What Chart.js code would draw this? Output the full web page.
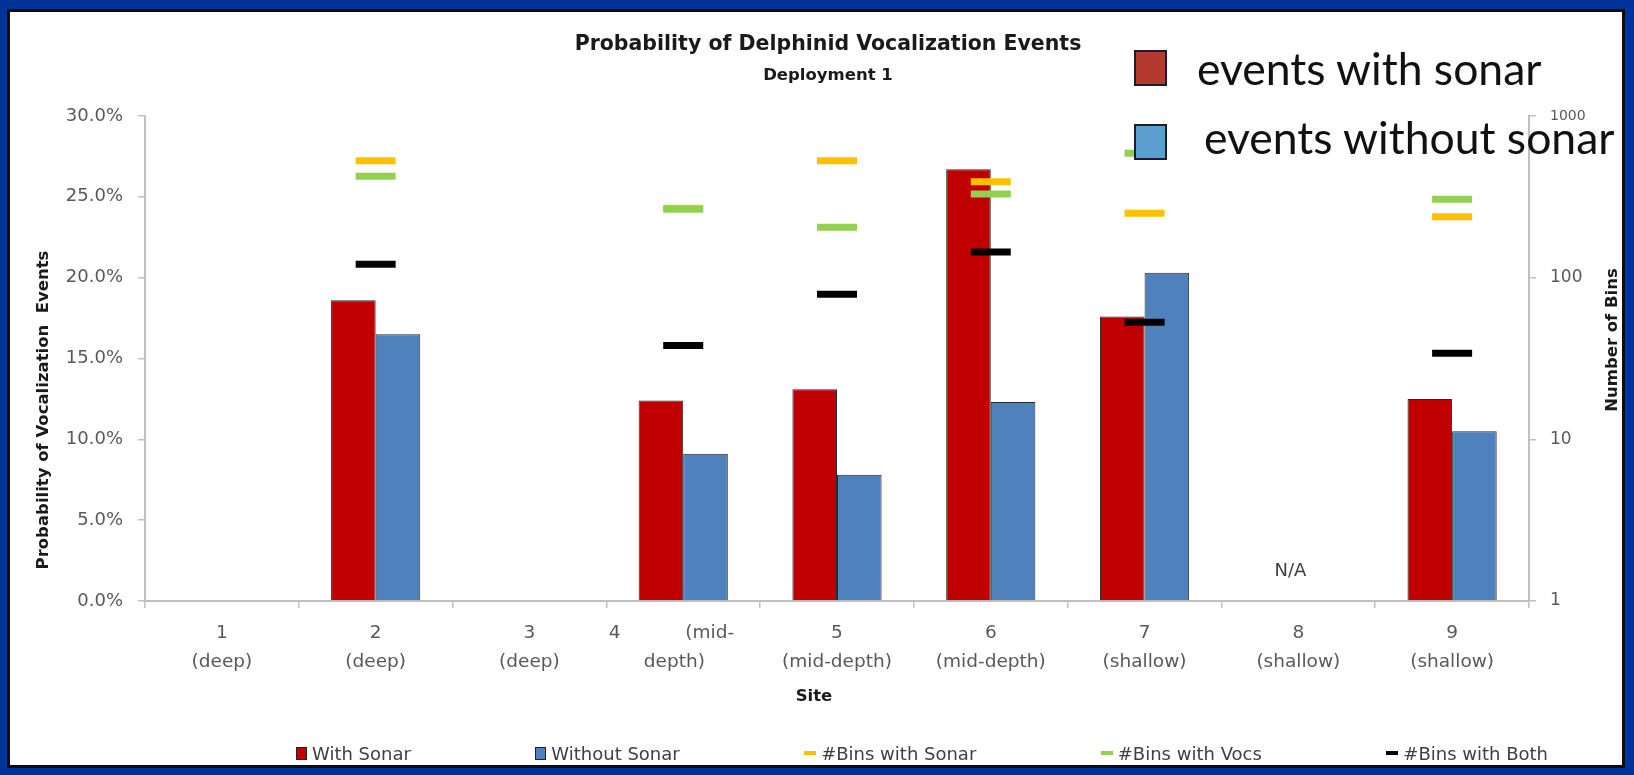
<!DOCTYPE html>
<html>
<head>
<meta charset="utf-8">
<title>Probability of Delphinid Vocalization Events</title>
<script src="https://cdn.jsdelivr.net/npm/chart.js@4.4.1/dist/chart.umd.min.js"></script>
<style>
  body { margin: 0; width: 1634px; height: 775px; overflow: hidden; position: relative; background: #003399; }
  .panel { position: absolute; left: 7px; top: 9px; width: 1618px; height: 759px; box-sizing: border-box; border: 3px solid #0d0d0d; background: #fff; }
  #chart { position: absolute; left: 0; top: 0; }
  #legend { position: absolute; left: 296px; top: 743px; width: 1252px; height: 20px; display: flex; justify-content: space-between; align-items: center;
            font: 18px "DejaVu Sans"; color: #404040; white-space: nowrap; }
  #legend .item { display: flex; align-items: center; }
  #legend .sw { margin-right: 5px; box-sizing: border-box; }
  .key { position: absolute; font: 44.5px Lato; color: #111; line-height: 1; white-space: nowrap; }
  .key-box { position: absolute; width: 33px; box-sizing: border-box; border: 2px solid #1c1c2a; }
</style>
</head>
<body>
<div class="panel"></div>
<canvas id="chart" width="1634" height="775"></canvas>
<div id="legend"></div>

<div class="key-box" style="left:1134px; top:50px; height:36px; background:#b43a30;"></div>
<div class="key" style="left:1197px; top:45.5px;">events with sonar</div>
<div class="key-box" style="left:1134px; top:124px; height:36px; background:#5c9ed0;"></div>
<div class="key" style="left:1204px; top:114.5px;">events without sonar</div>

<script>
// sites along the x axis (number + depth class)
const siteLabels = [
  ['1', '(deep)'], ['2', '(deep)'], ['3', '(deep)'],
  ['4           (mid-    ', 'depth)   '], ['5', '(mid-depth)'], ['6', '(mid-depth)'],
  ['7', '(shallow)'], ['8', '(shallow)'], ['9', '(shallow)']
];

// probability of vocalization events, percent (left axis)
const withSonar    = [null, 18.6, null, 12.4, 13.1, 26.7, 17.6, null, 12.5];
const withoutSonar = [null, 16.5, null,  9.1,  7.8, 12.3, 20.3, null, 10.5];

// number of bins (right axis, log)
const binsSonar = [null, 528, null, 268, 528, 392, 250, null, 238];
const binsVocs  = [null, 423, null, 265, 205, 329, 587, null, 305];
const binsBoth  = [null, 121, null,  38,  79, 144,  53, null,  34];

const binTicks = [1, 10, 100, 1000];
const noDataSite = 7; // site 8 had no data

Chart.defaults.font.family = '"DejaVu Sans"';
Chart.defaults.color = '#595959';

const axisGrey = '#c0c0c0';

function barSeries(label, data, color, order) {
  return {
    type: 'bar', label, data, yAxisID: 'y', order,
    categoryPercentage: 0.58, barPercentage: 1.0,
    backgroundColor: color, borderColor: '#2a2a2a', borderWidth: 1,
    legendKind: 'box'
  };
}

function dashSeries(label, data, color, order) {
  return {
    type: 'line', label, data, yAxisID: 'y2', order,
    showLine: false,
    pointStyle: 'line', pointRadius: 20, pointHoverRadius: 20,
    pointBorderWidth: 7, pointHoverBorderWidth: 7,
    pointBorderColor: color, pointBackgroundColor: color,
    borderColor: color, backgroundColor: color,
    legendKind: 'dash'
  };
}

const datasets = [
  barSeries('With Sonar', withSonar, '#c00000', 10),
  barSeries('Without Sonar', withoutSonar, '#4f81bd', 11),
  dashSeries('#Bins with Sonar', binsSonar, '#ffc000', 3),
  dashSeries('#Bins with Vocs', binsVocs, '#92d050', 2),
  dashSeries('#Bins with Both', binsBoth, '#000000', 1)
];

// axis titles and the N/A note
const annotations = {
  id: 'annotations',
  afterDraw(chart) {
    const { ctx, scales } = chart;
    ctx.save();
    ctx.fillStyle = '#1a1a1a';
    ctx.font = 'bold 16.5px "DejaVu Sans"';
    ctx.textAlign = 'center';
    ctx.textBaseline = 'middle';

    ctx.save();
    ctx.translate(44, 410);
    ctx.rotate(-Math.PI / 2);
    ctx.fillText('Probability of Vocalization  Events', 0, 0);
    ctx.restore();

    ctx.save();
    ctx.translate(1613, 340);
    ctx.rotate(-Math.PI / 2);
    ctx.fillText('Number of Bins', 0, 0);
    ctx.restore();

    ctx.fillText('Site', 814, 697);

    ctx.font = '18px "DejaVu Sans"';
    ctx.fillStyle = '#404040';
    ctx.fillText('N/A', scales.x.getPixelForValue(noDataSite) - 8, scales.y.getPixelForValue(0) - 30);
    ctx.restore();
  }
};

new Chart(document.getElementById('chart'), {
  data: { labels: siteLabels, datasets },
  options: {
    responsive: false,
    animation: false,
    events: [],
    layout: { padding: { left: 22, right: 0, top: 0, bottom: 0 } },
    plugins: {
      legend: { display: false },
      tooltip: { enabled: false },
      title: {
        display: true, text: 'Probability of Delphinid Vocalization Events',
        color: '#1a1a1a', font: { size: 20.5, weight: 'bold' },
        padding: { top: 32, bottom: 0 }
      },
      subtitle: {
        display: true, text: 'Deployment 1',
        color: '#1a1a1a', font: { size: 16.5, weight: 'bold' },
        padding: { top: 9.5, bottom: 30 }
      }
    },
    scales: {
      x: {
        grid: { offset: true, drawOnChartArea: false, tickLength: 7, color: axisGrey, lineWidth: 1.5 },
        border: { color: axisGrey, width: 2 },
        ticks: { font: { size: 18.5, lineHeight: 1.57 }, padding: 10.5, maxRotation: 0, autoSkip: false },
        afterFit: (s) => { s.height = 174; }
      },
      y: {
        position: 'left',
        min: 0, max: 30,
        grid: { drawOnChartArea: false, tickLength: 7, color: axisGrey, lineWidth: 1.5 },
        border: { color: axisGrey, width: 2 },
        ticks: { stepSize: 5, padding: 15, font: { size: 18 }, callback: (v) => v.toFixed(1) + '%' },
        afterFit: (s) => { s.width = 123; }
      },
      y2: {
        type: 'logarithmic',
        position: 'right',
        min: 1, max: 1000,
        grid: { drawOnChartArea: false, tickLength: 7, color: axisGrey, lineWidth: 1.5 },
        border: { color: axisGrey, width: 2 },
        afterBuildTicks: (s) => { s.ticks = binTicks.map((v) => ({ value: v })); },
        ticks: {
          padding: 14,
          font: (c) => ({ size: c.tick && c.tick.value === 1000 ? 14 : 17 }),
          callback: (v) => String(v)
        },
        afterFit: (s) => { s.width = 105; }
      }
    }
  },
  plugins: [annotations]
});

// legend row under the chart, built from the datasets
const legendEl = document.getElementById('legend');
datasets.forEach((ds) => {
  const item = document.createElement('div');
  item.className = 'item';
  const sw = document.createElement('span');
  sw.className = 'sw';
  if (ds.legendKind === 'box') {
    sw.style.cssText = 'width:11px;height:13px;border:1px solid #222;background:' + ds.backgroundColor;
  } else {
    sw.style.cssText = 'width:12px;height:4px;background:' + ds.pointBorderColor;
  }
  item.appendChild(sw);
  item.appendChild(document.createTextNode(ds.label));
  legendEl.appendChild(item);
});
</script>
</body>
</html>
